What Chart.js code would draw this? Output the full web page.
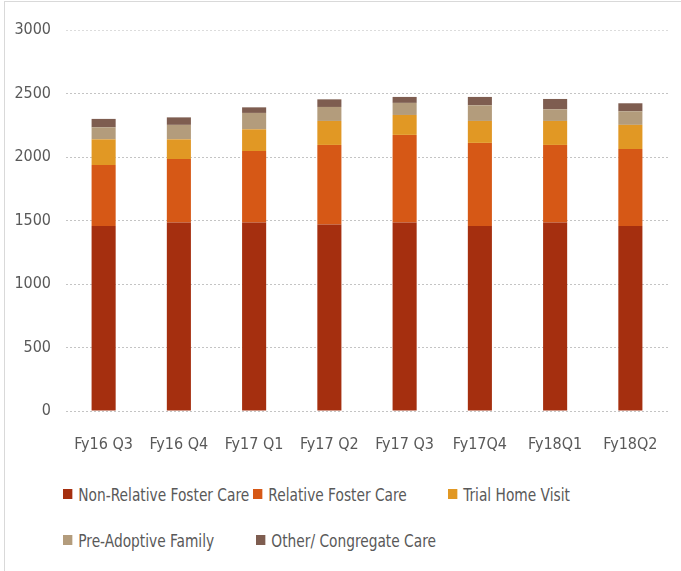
<!DOCTYPE html>
<html>
<head>
<meta charset="utf-8">
<script src="https://cdn.jsdelivr.net/npm/chart.js@4/dist/chart.umd.min.js"></script>
<style>
  html, body { margin: 0; padding: 0; background: #fff; }
  #wrap { position: relative; width: 681px; height: 571px; overflow: hidden; }
  #frame { position: absolute; left: 4px; top: 1px; right: -2px; bottom: -2px;
           border-left: 1px solid #d9d9d9; border-top: 1px solid #d9d9d9; }
  #chart-box { position: absolute; left: 0; top: 0; width: 681px; height: 460px; }
  #legend { position: absolute; left: 63px; top: 483px; width: 610px; margin: 0; padding: 0;
            list-style: none; font-family: "DejaVu Sans Condensed", sans-serif;
            font-size: 18px; color: #595959; }
  #legend li { position: absolute; white-space: nowrap; display: flex; align-items: center; height: 22px;
               transform: scaleX(0.85); transform-origin: left center; }
  #legend span.box { display: inline-block; width: 11px; height: 10px; margin-right: 7px; }
</style>
</head>
<body>
<div id="wrap">
  <div id="frame"></div>
  <div id="chart-box"><canvas id="chart"></canvas></div>
  <ul id="legend"></ul>
</div>
<script>
const categories = ['Fy16 Q3', 'Fy16 Q4', 'Fy17 Q1', 'Fy17 Q2', 'Fy17 Q3', 'Fy17Q4', 'Fy18Q1', 'Fy18Q2'];

const nonRelativeFosterCare = [1456, 1485, 1485, 1469, 1485, 1456, 1485, 1456];
const relativeFosterCare = [481, 499, 562, 626, 689, 655, 610, 607];
const trialHomeVisit = [202, 155, 171, 189, 157, 173, 189, 190];
const preAdoptiveFamily = [95, 114, 129, 110, 95, 123, 92, 107];
const otherCongregateCare = [66, 59, 44, 60, 47, 66, 81, 63];

const yTicks = [0, 500, 1000, 1500, 2000, 2500, 3000];

const FONT = "'DejaVu Sans Condensed', sans-serif";

const series = [
  { label: 'Non-Relative Foster Care', data: nonRelativeFosterCare, color: '#A52F0F' },
  { label: 'Relative Foster Care', data: relativeFosterCare, color: '#D65816' },
  { label: 'Trial Home Visit', data: trialHomeVisit, color: '#E19824' },
  { label: 'Pre-Adoptive Family', data: preAdoptiveFamily, color: '#B39C7C' },
  { label: 'Other/ Congregate Care', data: otherCongregateCare, color: '#7E5D50' },
];

const chart = new Chart(document.getElementById('chart'), {
  type: 'bar',
  data: {
    labels: categories,
    datasets: series.map(s => ({
      label: s.label,
      data: s.data,
      backgroundColor: s.color,
      borderWidth: 0,
      categoryPercentage: 1,
      barPercentage: 0.32,
    })),
  },
  options: {
    responsive: true,
    maintainAspectRatio: false,
    animation: false,
    layout: { padding: { top: 30, right: 13, left: 0, bottom: 0 } },
    scales: {
      x: {
        stacked: true,
        grid: { display: false },
        border: { display: false },
        ticks: {
          color: '#595959',
          padding: 16,
          maxRotation: 0,
          autoSkip: false,
          font: { family: FONT, size: 16 },
        },
        afterFit: scale => { scale.height = 49; },
      },
      y: {
        stacked: true,
        min: 0,
        max: 3000,
        afterBuildTicks: scale => { scale.ticks = yTicks.map(v => ({ value: v })); },
        grid: {
          drawTicks: false,
          color: ctx => (ctx.tick && ctx.tick.value === 3000 ? '#dcdcdc' : '#c4c4c4'),
          lineWidth: 1,
        },
        border: { display: false, dash: [2, 2] },
        ticks: {
          color: '#595959',
          padding: 15,
          font: { family: FONT, size: 16 },
          callback: value => String(value),
        },
        afterFit: scale => { scale.width = 66; },
      },
    },
    plugins: {
      legend: { display: false },
      tooltip: { enabled: false },
    },
  },
});

// Legend laid out in Excel-like columns, built from the chart's datasets
const legendPositions = [[0, 0], [190, 0], [385, 0], [0, 46], [193, 46]];
const legendEl = document.getElementById('legend');
chart.data.datasets.forEach((ds, i) => {
  const [left, top] = legendPositions[i];
  legendEl.insertAdjacentHTML(
    'beforeend',
    `<li style="left:${left}px;top:${top}px"><span class="box" style="background:${ds.backgroundColor}"></span>${ds.label}</li>`,
  );
});
</script>
</body>
</html>
